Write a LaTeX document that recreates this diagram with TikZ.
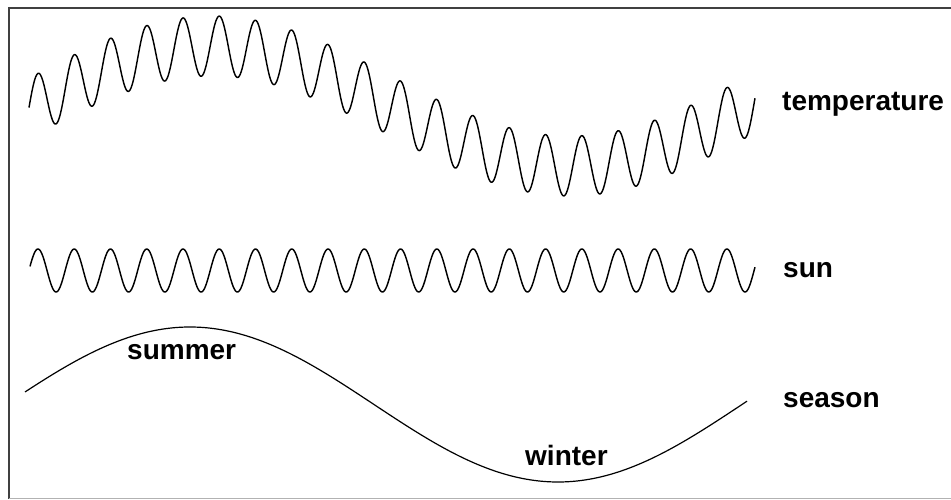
\documentclass[tikz,border=0pt]{standalone}
\usepackage{fontspec}
\setmainfont{Liberation Sans}
\begin{document}
\begin{tikzpicture}[x=1pt,y=-1pt,
  wave/.style={line width=1.45pt,line join=round,black},
  slow/.style={line width=1.2pt,line join=round,black},
  lbl/.style={font=\fontsize{28}{30}\selectfont\bfseries,inner sep=0pt,anchor=base west}]
\useasboundingbox (0,0) rectangle (951,500);
% frame
\draw[line width=2.5pt,black!75] (8,8.2) -- (951,8.2);
\draw[line width=2.5pt,black!75] (9.2,7) -- (9.2,499);
\draw[line width=1.5pt,black!30] (9,498.7) -- (951,498.7);
% temperature
\draw[wave] plot[domain=29:755,samples=1000] (\x,{106-60*cos(0.50279*(\x-212))-30*sin(9.9283*(\x-28.9))});
% sun
\draw[wave] plot[domain=30:755,samples=1000] (\x,{270.5-21.5*sin(9.9283*(\x-28.9))});
% season
\draw[slow] plot[domain=25:747,samples=300] (\x,{404.5-77.5*cos(0.48913*(\x-190))});
% labels
\node[lbl] (temp) at (782,111) {temperature};
\node[lbl] (sun) at (783,277) {sun};
\node[lbl] (season) at (783,407) {season};
\node[lbl] (summer) at (127,359) {summer};
\node[lbl] (winter) at (525,465) {winter};
\end{tikzpicture}
\end{document}
